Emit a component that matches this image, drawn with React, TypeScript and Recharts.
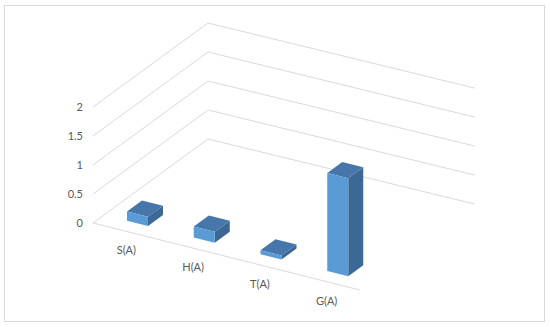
import React from 'react';
import { BarChart, Bar, XAxis, YAxis, CartesianGrid } from 'recharts';

const categories = ['S(A)', 'H(A)', 'T(A)', 'G(A)'];
const values = [0.16, 0.19, 0.07, 1.69];
const yTicks = [0, 0.5, 1, 1.5, 2];

const data = categories.map((c, i) => ({ name: c, value: values[i] }));

const W = 550;
const H = 327;
const MARGIN = { top: 107, right: 190, bottom: 74, left: 0 };
const Y_AXIS_W = 93;
const X_AXIS_H = 30;
const PLOT_LEFT = MARGIN.left + Y_AXIS_W;
const PLOT_BOTTOM = H - MARGIN.bottom - X_AXIS_H;
const SLOPE = 0.251; // front floor edge
const BACK_SLOPE = 0.244; // back wall lines
const WALL = { dx: 115, dy: -84 }; // side wall depth direction
const FRONT = { dx: 11, dy: -8 }; // bar front plane offset
const DEPTH = { dx: 15, dy: -11 }; // bar depth
const GRID = '#D9D9D9';
const TEXT = '#595959';
const FONT = 'Lato, "Open Sans", sans-serif';
const C_FRONT = '#5B9BD5';
const C_TOP = '#4676AA';
const C_SIDE = '#3B6894';

const gridLine = (props: any) => {
  const { x1, x2, y1 } = props;
  const len = x2 - x1;
  const cx = x1 + WALL.dx;
  const cy = y1 + WALL.dy;
  let d = `M${x1},${y1}L${cx},${cy}L${cx + len},${cy + len * BACK_SLOPE}`;
  if (Math.abs(y1 - PLOT_BOTTOM) < 0.5) {
    d += `M${x1},${y1}L${x2},${y1 + len * SLOPE}`;
  }
  return <path key={`g-${y1}`} d={d} stroke={GRID} strokeWidth={1} fill="none" />;
};

const pts = (arr: number[][]) => arr.map((p) => `${p[0]},${p[1]}`).join(' ');

const Box3D = (props: any) => {
  const { x, y, width, height } = props;
  if (x == null || height == null) return null;
  const fx = x + FRONT.dx;
  const yb = y + height + (x - PLOT_LEFT) * SLOPE + FRONT.dy;
  const rise = width * SLOPE;
  const p1 = [fx, yb];
  const p2 = [fx + width, yb + rise];
  const p3 = [fx + width, yb + rise - height];
  const p4 = [fx, yb - height];
  const b2 = [p2[0] + DEPTH.dx, p2[1] + DEPTH.dy];
  const b3 = [p3[0] + DEPTH.dx, p3[1] + DEPTH.dy];
  const b4 = [p4[0] + DEPTH.dx, p4[1] + DEPTH.dy];
  return (
    <g>
      <polygon points={pts([p2, p3, b3, b2])} fill={C_SIDE} />
      <polygon points={pts([p4, p3, b3, b4])} fill={C_TOP} />
      <polygon points={pts([p1, p2, p3, p4])} fill={C_FRONT} />
    </g>
  );
};

const CatTick = (props: any) => {
  const { x, payload } = props;
  const ty = PLOT_BOTTOM + (x - PLOT_LEFT) * SLOPE + 18.5;
  return (
    <text x={x} y={ty} textAnchor="middle" dominantBaseline="central" fontSize={11} fill={TEXT} fontFamily={FONT}>
      {payload.value}
    </text>
  );
};

export default function App() {
  return (
    <div style={{ position: 'absolute', left: 0, top: 0, width: W, height: H, background: '#fff' }}>
      <div
        style={{
          position: 'absolute',
          left: 4,
          top: 5,
          width: 541,
          height: 317,
          border: `1px solid ${GRID}`,
          boxSizing: 'border-box',
        }}
      />
      <div style={{ position: 'absolute', left: 0, top: 0 }}>
        <BarChart width={W} height={H} data={data} margin={MARGIN} barSize={21}>
          <CartesianGrid vertical={false} horizontal={gridLine} />
          <XAxis
            dataKey="name"
            type="category"
            height={X_AXIS_H}
            axisLine={false}
            tickLine={false}
            tick={CatTick}
            interval={0}
          />
          <YAxis
            type="number"
            domain={[0, 2]}
            ticks={yTicks}
            width={Y_AXIS_W}
            axisLine={false}
            tickLine={false}
            tickSize={0}
            tickMargin={10}
            tick={{ fontSize: 11, fill: TEXT, fontFamily: FONT }}
            interval={0}
          />
          <Bar dataKey="value" shape={Box3D} isAnimationActive={false} />
        </BarChart>
      </div>
    </div>
  );
}
